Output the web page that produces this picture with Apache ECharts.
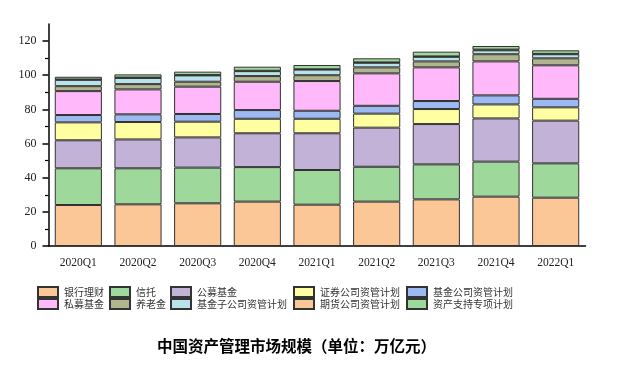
<!DOCTYPE html>
<html>
<head>
<meta charset="utf-8">
<script src="https://cdn.jsdelivr.net/npm/echarts@6/dist/echarts.min.js"></script>
<style>html,body{margin:0;padding:0;background:#fff;}#c{width:623px;height:370px;}</style>
</head>
<body>
<div id="c"></div>
<script>
const categories = ['2020Q1','2020Q2','2020Q3','2020Q4','2021Q1','2021Q2','2021Q3','2021Q4','2022Q1'];
const bank        = [24.0, 24.4, 25.0, 26.0, 24.2, 26.0, 27.3, 28.9, 28.3];
const trust       = [21.5, 21.1, 20.9, 20.2, 20.3, 20.4, 20.5, 20.5, 20.1];
const publicFund  = [16.4, 16.9, 17.7, 19.8, 21.5, 22.9, 23.6, 25.3, 25.0];
const securities  = [10.5, 10.2, 9.2, 8.5, 8.5, 8.2, 8.8, 8.2, 7.8];
const fundCo      = [4.3, 4.5, 4.5, 5.1, 4.7, 4.6, 4.7, 5.3, 5.0];
const privateFund = [14.0, 14.6, 16.0, 16.6, 17.4, 19.0, 19.7, 19.9, 19.6];
const pension     = [2.9, 3.1, 2.9, 3.3, 3.4, 3.5, 3.5, 4.2, 4.1];
const fundSub     = [3.7, 3.6, 3.7, 2.9, 3.3, 2.7, 2.7, 2.3, 2.4];
const futures     = [0.2, 0.2, 0.2, 0.2, 0.2, 0.2, 0.2, 0.4, 0.2];
const abs         = [1.6, 1.9, 2.0, 2.4, 2.5, 2.4, 2.8, 2.1, 2.1];
const seriesNames = ['银行理财','信托','公募基金','证券公司资管计划','基金公司资管计划','私募基金','养老金','基金子公司资管计划','期货公司资管计划','资产支持专项计划'];
const seriesData = [bank, trust, publicFund, securities, fundCo, privateFund, pension, fundSub, futures, abs];
const yTickLabels = [0, 20, 40, 60, 80, 100, 120];
const yMinorTicks = [10, 30, 50, 70, 90, 110];

const colors = ['#FBC796','#9FD89B','#C3B2D8','#FFFFA2','#9DB9F1','#FFB8F9','#B1B58E','#B8E3EA','#FBC796','#9FD89B'];
const legendLefts = [37, 109, 170, 293, 406];
const legendTops = [286, 298];

const chart = echarts.init(document.getElementById('c'), null, {renderer:'canvas'});
const legends = seriesNames.map((n, i) => ({
  data: [{name: n, icon: 'rect'}],
  left: legendLefts[i % 5],
  top: legendTops[Math.floor(i / 5)],
  padding: 0,
  itemWidth: 20,
  itemHeight: 10,
  itemGap: 0,
  textStyle: {fontSize: 10, color: '#333', fontFamily: 'Noto Sans CJK SC', lineHeight: 12, padding: [0,0,0,1]}
}));

chart.setOption({
  animation: false,
  color: colors,
  title: {
    text: '中国资产管理市场规模（单位：万亿元）',
    left: 157, top: 338,
    padding: 0,
    textStyle: {fontSize: 15.5, fontWeight: 'bold', color: '#000', fontFamily: 'Noto Sans CJK SC'}
  },
  legend: legends,
  grid: {left: 48.5, right: 37.5, top: 24, bottom: 124, containLabel: false},
  xAxis: [{
    type: 'category', data: categories, position: 'bottom',
    axisLine: {lineStyle: {color: '#000', width: 1.5}},
    axisTick: {alignWithLabel: true, length: 5, lineStyle: {color: '#000', width: 1.5}},
    axisLabel: {fontFamily: 'Liberation Serif', fontSize: 11.5, color: '#222', margin: 11}
  }, {
    type: 'category', data: categories, position: 'bottom',
    axisLine: {show: false},
    axisTick: {alignWithLabel: false, length: 3, lineStyle: {color: '#000', width: 1.2}},
    axisLabel: {show: false}
  }],
  yAxis: [{
    type: 'value', min: 0, max: 130, position: 'left',
    splitLine: {show: false},
    axisLine: {show: true, lineStyle: {color: '#000', width: 1.5}},
    axisTick: {show: true, length: 6, customValues: yTickLabels, lineStyle: {color: '#000', width: 1.5}},
    axisLabel: {customValues: yTickLabels, fontFamily: 'Liberation Serif', fontSize: 12, color: '#222', margin: 12}
  }, {
    type: 'value', min: 0, max: 130, position: 'left', offset: 0,
    splitLine: {show: false},
    axisLine: {show: false},
    axisTick: {show: true, length: 3.5, customValues: yMinorTicks, lineStyle: {color: '#000', width: 1.2}},
    axisLabel: {show: false}
  }],
  series: seriesNames.map((n, i) => ({
    name: n, type: 'bar', stack: 'total', data: seriesData[i],
    barCategoryGap: '21%',
    itemStyle: {color: colors[i], borderColor: '#333', borderWidth: 1}
  }))
});
</script>
</body>
</html>
